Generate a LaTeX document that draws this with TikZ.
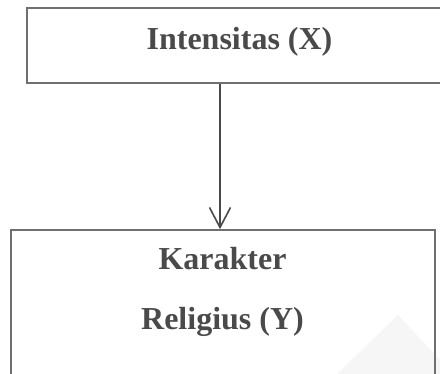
\documentclass[tikz,border=0pt]{standalone}
\usepackage{fontspec}
\setmainfont{Liberation Serif}
\usetikzlibrary{arrows.meta}
\definecolor{boxline}{HTML}{707070}
\definecolor{txt}{HTML}{4A4A4A}
\definecolor{wm}{HTML}{F6F6F6}
\begin{document}
\begin{tikzpicture}[x=1pt,y=-1pt,
  box/.style={draw=boxline, line width=1.6pt, rectangle, inner sep=0pt},
  lbl/.style={font=\fontsize{32}{36}\selectfont\bfseries, text=txt, anchor=base, inner sep=0pt},
  conn/.style={draw=txt, line width=1.6pt, -{Straight Barb[length=20pt,width=21pt,line width=1.6pt]}}]
\useasboundingbox (0,0) rectangle (440,374);
\clip (0,0) rectangle (440,374);
\fill[wm] (398,315) -- (440,360) -- (440,374) -- (337,374) -- cycle;
\node[box, minimum width=425pt, minimum height=75pt] (top) at (239.5,45.5) {};
\node[box, minimum width=424pt, minimum height=180pt] (bot) at (223,320) {};
\node[lbl] (tx) at (239.5,50) {Intensitas (X)};
\node[lbl] (ty1) at (222.5,270) {Karakter};
\node[lbl] (ty2) at (222.5,330) {Religius (Y)};
\coordinate (a1) at (top.south -| 220,0);
\coordinate (a2) at (bot.north -| 220,0);
\draw[conn] (a1) -- (a2);
\end{tikzpicture}
\end{document}
